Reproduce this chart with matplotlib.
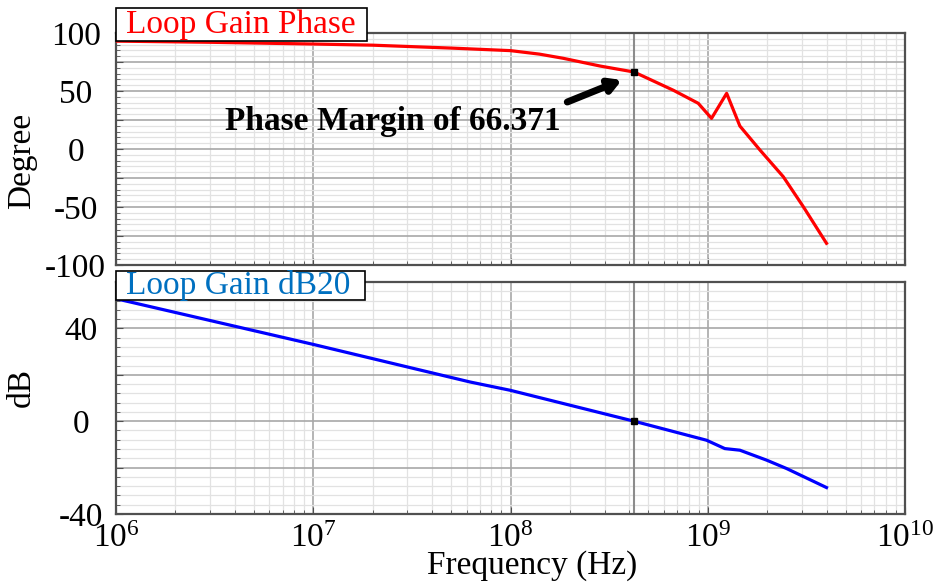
import numpy as np
import matplotlib
matplotlib.use("Agg")
import matplotlib.pyplot as plt
from matplotlib.patches import Rectangle
from matplotlib.ticker import FixedLocator, LogLocator, LogFormatterMathtext, NullFormatter

plt.rcParams['font.family'] = ['Liberation Serif', 'DejaVu Serif']
plt.rcParams['mathtext.fontset'] = 'stix'
plt.rcParams['axes.unicode_minus'] = False

# loop gain, phase (deg) and magnitude (dB) vs frequency (Hz)
freq_ph = [1e6, 3e6, 1e7, 2e7, 5e7, 1e8, 1.4e8, 1.85e8, 2.85e8, 4.23e8,
           6.7e8, 8.95e8, 1.045e9, 1.247e9, 1.455e9, 1.84e9, 2.415e9, 3.05e9, 4.0e9]
phase = [93.0, 92.0, 90.5, 89.5, 87.0, 84.8, 81.8, 78.2, 71.5, 66.371,
         50.6, 39.4, 26.4, 48.0, 19.8, -0.9, -23.9, -49.7, -81.3]

freq_db = [1e6, 1e7, 6.24e7, 1e8, 4.23e8, 9.86e8, 1.22e9, 1.455e9, 1.99e9, 2.51e9, 4.0e9]
gain_db = [52.8, 33.1, 16.9, 13.3, 0.0, -8.2, -11.8, -12.5, -16.8, -20.4, -28.6]

f_cross = 4.23e8
pm = 66.371

W, H = 937, 582
fig = plt.figure(figsize=(W / 100, H / 100), dpi=100)

def box(l, t, r, b):
    return [l / W, 1 - b / H, (r - l) / W, (b - t) / H]

ax1 = fig.add_axes(box(116, 33, 905, 265))
ax2 = fig.add_axes(box(116, 282, 905, 514))

def style(ax, ypad):
    ax.set_xscale('log')
    ax.set_xlim(1e6, 1e10)
    ax.xaxis.set_major_locator(LogLocator(base=10, numticks=10))
    ax.xaxis.set_minor_locator(LogLocator(base=10, subs=np.arange(2, 10), numticks=20))
    ax.xaxis.set_minor_formatter(NullFormatter())
    ax.grid(which='major', color='#a8a8a8', lw=1.2)
    ax.grid(which='minor', color='#e2e2e2', lw=0.9)
    ax.axvline(f_cross, color='#8c8c8c', lw=1.5, zorder=1)
    for s in ax.spines.values():
        s.set_color('#505050')
        s.set_linewidth(1.6)
    ax.tick_params(which='both', direction='in', color='#505050', labelsize=24)
    ax.tick_params(which='major', length=5)
    ax.tick_params(which='minor', length=3)
    ax.tick_params(axis='y', pad=ypad)
    ax.tick_params(axis='x', pad=7)
    for lbl in ax.get_yticklabels():
        lbl.set_horizontalalignment('center')
    ax.set_axisbelow(True)

def title_box(l, t, r, b, text, color):
    fig.patches.append(Rectangle((l / W, 1 - b / H), (r - l) / W, (b - t) / H,
                                 transform=fig.transFigure, fc='white', ec='black',
                                 lw=1.2, zorder=10))
    fig.text((l + 10) / W, 1 - (t + b) / 2 / H, text, fontsize=24, color=color,
             ha='left', va='center', zorder=11)

# phase plot
ax1.set_ylim(-100, 100)
ax1.yaxis.set_minor_locator(FixedLocator(np.arange(-100, 101, 5)))
ax1.set_yticks(np.arange(-100, 101, 25))
ax1.set_yticklabels(['-100', '', '-50', '', '0', '', '50', '', '100'])
style(ax1, 29)
ax1.xaxis.set_major_formatter(NullFormatter())
ax1.plot(freq_ph, phase, color='#ff0000', lw=2.3, zorder=3)
ax1.plot([f_cross], [pm], 's', color='black', ms=5, zorder=4)
ax1.set_ylabel('Degree', fontsize=24)
ax1.yaxis.set_label_coords(-0.1, 0.45)
ax1.annotate('', xy=(3.67e8, 59.5), xytext=(1.94e8, 40.5),
             arrowprops=dict(arrowstyle='-|>,head_length=0.7,head_width=0.4',
                             color='black', lw=5, shrinkA=0, shrinkB=0))
ax1.text(3.57e6, 16.4, 'Phase Margin of %.3f' % pm, fontsize=24,
         fontweight='bold', ha='left', va='baseline')

# magnitude plot
ax2.set_ylim(-40, 60)
ax2.set_yticks(np.arange(-40, 61, 20))
ax2.set_yticklabels(['-40', '', '0', '', '40', ''])
ax2.yaxis.set_minor_locator(FixedLocator(np.arange(-40, 61, 4)))
style(ax2, 25)
ax2.xaxis.set_major_formatter(LogFormatterMathtext())
ax2.plot(freq_db, gain_db, color='#0000ff', lw=2.3, zorder=3)
ax2.plot([f_cross], [0], 's', color='black', ms=5, zorder=4)
ax2.set_ylabel('dB', fontsize=24)
ax2.yaxis.set_label_coords(-0.1, 0.545)
ax2.set_xlabel('Frequency (Hz)', fontsize=24)
ax2.xaxis.set_label_coords(0.528, -0.155)

title_box(116, 8, 367, 41, 'Loop Gain Phase', '#ff0000')
title_box(116, 271, 365, 300, 'Loop Gain dB20', '#0070c0')

fig.savefig('out.png', dpi=100)
